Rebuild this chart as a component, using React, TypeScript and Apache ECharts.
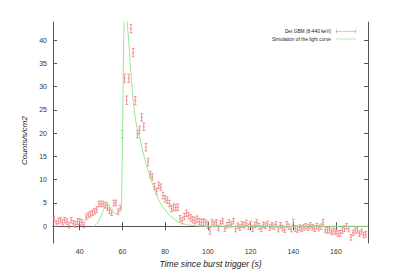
import React, { useEffect, useRef } from "react";
import * as echarts from "echarts";

const NAME_OBS = "Det GBM (8-440 keV)";
const NAME_SIM = "Simulation of the light curve";

const TIMES = [
  28, 29, 30, 31, 32, 33, 34, 35, 36, 37, 38, 39, 40, 41, 42, 43, 44, 45, 46, 47, 48, 49, 50, 51, 52, 53, 54, 55, 56, 57, 58, 59,
  60, 61, 62, 63, 64, 65, 66, 67, 68, 69, 70, 71, 72, 73, 74, 75, 76, 77, 78, 79, 80, 81, 82, 83, 84, 85, 86, 87, 88, 89, 90,
  91, 92, 93, 94, 95, 96, 97, 98, 99, 100, 101,
  102, 103, 104, 105, 106, 107, 108, 109, 110, 111, 112, 113, 114, 115, 116, 117, 118, 119, 120, 121, 122, 123, 124, 125, 126,
  127, 128, 129, 130, 131, 132, 133, 134, 135, 136, 137, 138, 139, 140, 141, 142, 143, 144, 145, 146, 147, 148, 149, 150, 151,
  152, 153, 154, 155, 156, 157, 158, 159, 160, 161, 162, 163, 164, 165, 166, 167, 168, 169, 170, 171, 172, 173, 174,
];

const RATES = [
  1.6, 0.6, 1.1, 1.3, 0.9, 1.3, 1.0, 0.2, 1.3, 0.6, 0.4, 1.0, 1.0, 0.8, 0.3, 2.0, 2.4, 2.6, 2.9, 3.2, 3.6, 4.8, 4.8, 4.8, 4.5,
  4.0, 3.3, 2.9, 5.0, 5.0, 3.1, 3.9,
  19.8, 31.8, 27.1, 31.8, 42.5, 37.3, 27.0, 19.8, 20.7, 23.4, 21.4, 17.0, 13.8, 11.1, 10.6, 8.5, 7.5, 8.8, 8.4, 6.6, 5.9, 5.6,
  4.9, 3.8, 4.1, 4.0, 4.1, 1.6, 1.2, 2.1, 2.8, 2.3, 1.8, 1.4, 1.2, 1.5, 1.0, 0.8, 0.9, 0.7, 0.3, -1.0,
  0.9, 0.5, 0.8, -0.4, 0.6, 1.1, -0.5, 0.2, 0.8, 0.4, 1.1, -0.6, 0.1, -0.3, 0.4, 0.2, 0.7, -0.1, 0.4, -0.5, 0.3, 0.8, 0.0, -0.5,
  0.3, 0.1, 0.5, -0.3, 0.2, -0.1, 0.4, -0.6, 0.2, -0.4, -0.7, 0.4, -0.1, -0.6, 0.9, -0.5, -0.7, -0.3, -0.5, -0.2, 0.0, -0.3, 0.2,
  -0.2, -0.5, 0.0, -0.4, -0.1, 0.9, -0.7, -0.9, -0.8, -1.2, -1.0, -1.2, -1.6, -1.5, -0.9, -0.5, 0.0, -0.6, -2.4, -1.4, -1.0, -0.8,
  -1.6, -1.2, -1.9, -1.7,
];

const ERRORS = [
  0.6, 0.6, 0.6, 0.6, 0.6, 0.6, 0.6, 0.6, 0.6, 0.6, 0.6, 0.6, 0.6, 0.6, 0.6, 0.6, 0.6, 0.6, 0.6, 0.6, 0.6, 0.6, 0.6, 0.6, 0.6,
  0.6, 0.6, 0.6, 0.6, 0.6, 0.6, 0.6,
  0.8, 0.9, 0.9, 0.9, 0.9, 0.9, 0.9, 0.8, 0.8, 0.8, 0.8, 0.8, 0.8, 0.7, 0.7, 0.7, 0.7, 0.7, 0.7, 0.7, 0.7, 0.7, 0.7, 0.7, 0.7,
  0.7, 0.7, 0.7, 0.7, 0.7, 0.7, 0.7, 0.7, 0.7, 0.7, 0.7, 0.7, 0.7, 0.7, 0.7, 0.7, 0.7,
  0.6, 0.6, 0.6, 0.6, 0.6, 0.6, 0.6, 0.6, 0.6, 0.6, 0.6, 0.6, 0.6, 0.6, 0.6, 0.6, 0.6, 0.6, 0.6, 0.6, 0.6, 0.6, 0.6, 0.6, 0.6,
  0.6, 0.6, 0.6, 0.6, 0.6, 0.6, 0.6, 0.6, 0.6, 0.6, 0.6, 0.6, 0.6, 0.6, 0.6, 0.6, 0.6, 0.6, 0.6, 0.6, 0.6, 0.6, 0.6, 0.6, 0.6,
  0.6, 0.6, 0.6, 0.6, 0.6, 0.6, 0.6, 0.6, 0.6, 0.6, 0.6, 0.6, 0.6, 0.6, 0.6, 0.6, 0.6, 0.6, 0.6, 0.6, 0.6, 0.6, 0.6,
];

const SIM_T = [
  46.6, 48, 49, 50, 51, 52, 52.8, 53.5, 54.5, 55.5, 56.5, 57.5, 58.5, 59.5, 59.8, 60.2, 60.6, 61, 61.5, 62, 62.5, 63, 64, 65, 66,
  67, 68, 69, 70, 71, 72, 73, 74, 75, 76, 77, 78, 79, 80, 82, 84, 86, 88, 90, 93, 96, 100, 175,
];
const SIM_V = [
  0, 0.5, 1.3, 2.3, 3.3, 4.5, 5.3, 4.6, 3.8, 3.1, 2.7, 2.8, 3.2, 3.6, 10, 25, 40, 47, 48, 45.5, 42.5, 39.5, 33, 27, 23.3, 20.8,
  19.3, 17.2, 15.3, 13.5, 12, 10.7, 9.2, 7.9, 6.8, 5.7, 4.8, 4.1, 3.5, 2.4, 1.6, 1.0, 0.6, 0.35, 0.15, 0.05, 0, 0,
];

const X_TICKS = [40, 60, 80, 100, 120, 140, 160];
const Y_TICKS = [0, 5, 10, 15, 20, 25, 30, 35, 40];

const RED = "#f07c7c";
const GREEN = "#98e898";
const AXIS = "#555";
const FONT = "Liberation Sans, Arial, sans-serif";

export default function App() {
  const ref = useRef<HTMLDivElement>(null);
  useEffect(() => {
    if (!ref.current) return;
    const chart = echarts.init(ref.current, undefined, { renderer: "svg" });
    const obsData = TIMES.map((t, i) => [t, RATES[i], ERRORS[i]]);
    const simData = SIM_T.map((t, i) => [t, SIM_V[i]]);
    const axisLine = { show: true, lineStyle: { color: AXIS, width: 1 } };
    const option: any = {
      animation: false,
      backgroundColor: "#fff",
      grid: { left: 53, right: 27, top: 22, bottom: 36 },
      legend: [
        {
          data: [
            {
              name: NAME_OBS,
              icon: "path://M0,1.7h20v0.6h-20zM0,0h0.6v4h-0.6zM19.4,0h0.6v4h-0.6z",
              itemStyle: { color: RED },
            },
          ],
          orient: "vertical",
          align: "right",
          right: 34,
          top: 24,
          itemWidth: 20,
          itemHeight: 4,
          selectedMode: false,
          textStyle: { fontSize: 4.8, color: "#222", fontFamily: FONT },
        },
        {
          data: [{ name: NAME_SIM, icon: "path://M0,0h20v0.8h-20z", itemStyle: { color: GREEN } }],
          orient: "vertical",
          align: "right",
          right: 34,
          top: 31.5,
          itemWidth: 20,
          itemHeight: 4,
          selectedMode: false,
          textStyle: { fontSize: 4.8, color: "#222", fontFamily: FONT },
        },
      ],
      xAxis: [
        {
          type: "value",
          min: 27.5,
          max: 175,
          position: "bottom",
          axisLine,
          axisTick: { show: true, inside: true, length: 4, customValues: X_TICKS, lineStyle: { color: AXIS } },
          axisLabel: { customValues: X_TICKS, fontSize: 7, color: "#333", margin: 5, fontFamily: FONT },
          splitLine: { show: false },
          name: "Time since burst trigger (s)",
          nameLocation: "middle",
          nameGap: 14,
          nameTextStyle: { fontSize: 8.6, fontStyle: "italic", color: "#222", fontFamily: FONT },
        },
        {
          type: "value",
          min: 27.5,
          max: 175,
          position: "top",
          axisLine,
          axisTick: { show: true, inside: true, length: 4, customValues: X_TICKS, lineStyle: { color: AXIS } },
          axisLabel: { show: false },
          splitLine: { show: false },
        },
      ],
      yAxis: [
        {
          type: "value",
          min: -3.6,
          max: 43.9,
          position: "left",
          axisLine,
          axisTick: { show: true, inside: true, length: 4, customValues: Y_TICKS, lineStyle: { color: AXIS } },
          axisLabel: { customValues: Y_TICKS, fontSize: 7, color: "#333", margin: 6, fontFamily: FONT },
          splitLine: { show: false },
          name: "Counts/s/cm2",
          nameLocation: "middle",
          nameGap: 15,
          nameTextStyle: { fontSize: 8, fontStyle: "italic", color: "#222", fontFamily: FONT, padding: [0, 16, 0, 0] },
        },
        {
          type: "value",
          min: -3.6,
          max: 43.9,
          position: "right",
          axisLine,
          axisTick: { show: true, inside: true, length: 4, customValues: Y_TICKS, lineStyle: { color: AXIS } },
          axisLabel: { show: false },
          splitLine: { show: false },
        },
      ],
      series: [
        {
          name: NAME_OBS,
          type: "custom",
          xAxisIndex: 0,
          yAxisIndex: 0,
          itemStyle: { color: RED },
          encode: { x: 0, y: 1 },
          data: obsData,
          renderItem: (params: any, api: any) => {
            const x = api.value(0);
            const y = api.value(1);
            const e = api.value(2);
            const top = api.coord([x, y + e]);
            const bot = api.coord([x, y - e]);
            const c = api.coord([x, y]);
            const hw = 1.4;
            const st = { stroke: RED, lineWidth: 0.8 };
            return {
              type: "group",
              children: [
                { type: "line", shape: { x1: top[0], y1: top[1], x2: bot[0], y2: bot[1] }, style: st },
                { type: "line", shape: { x1: top[0] - hw, y1: top[1], x2: top[0] + hw, y2: top[1] }, style: st },
                { type: "line", shape: { x1: bot[0] - hw, y1: bot[1], x2: bot[0] + hw, y2: bot[1] }, style: st },
                { type: "line", shape: { x1: c[0] - 1, y1: c[1], x2: c[0] + 1, y2: c[1] }, style: st },
              ],
            };
          },
        },
        {
          name: NAME_SIM,
          type: "line",
          xAxisIndex: 0,
          yAxisIndex: 0,
          data: simData,
          showSymbol: false,
          symbol: "none",
          clip: true,
          itemStyle: { color: GREEN },
          lineStyle: { color: GREEN, width: 1 },
          z: 3,
        },
      ],
    };
    chart.setOption(option);
    return () => chart.dispose();
  }, []);
  return (
    <div
      ref={ref}
      style={{ position: "fixed", left: 0, top: 0, width: 395, height: 279, background: "#fff" }}
    />
  );
}
